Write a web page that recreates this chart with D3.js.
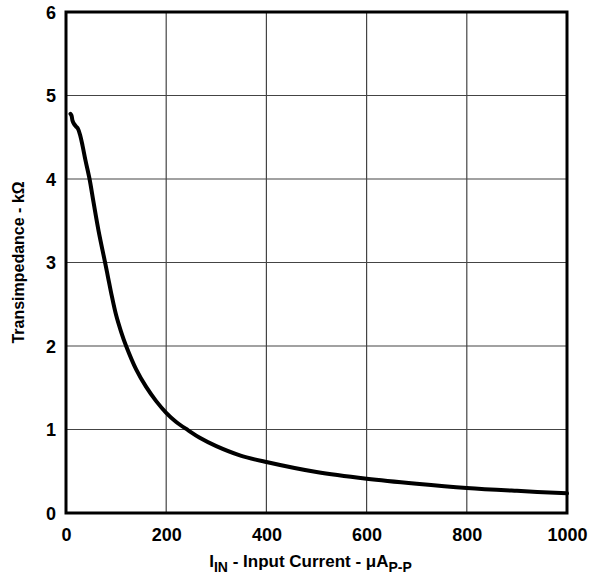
<!DOCTYPE html>
<html><head><meta charset="utf-8">
<script src="https://cdn.jsdelivr.net/npm/d3@7"></script>
<style>body{margin:0;background:#fff}svg{display:block}text{font-family:"Liberation Sans",Arial,sans-serif;font-weight:bold}</style>
</head><body>
<svg id="c" width="597" height="577"></svg>
<script>
const current = [9,11,13,16,20,24,28,33,39,47,55,65,78,84,90,100,110,120,140,160,180,200,220,244,267,300,347,400,500,600,700,800,900,1000];
const transimpedance = [4.78,4.76,4.70,4.66,4.63,4.60,4.53,4.40,4.22,4.0,3.72,3.38,3.0,2.82,2.64,2.37,2.17,2.0,1.72,1.51,1.34,1.20,1.09,0.99,0.90,0.80,0.69,0.61,0.49,0.41,0.35,0.30,0.265,0.236];
const xTicks = [0,200,400,600,800,1000];
const yTicks = [0,1,2,3,4,5,6];

const svg = d3.select("#c");
const L=66,R=567,T=12,B=513;
const x = d3.scaleLinear().domain([0,1000]).range([L,R]);
const y = d3.scaleLinear().domain([0,6]).range([B,T]);

const g = svg.append("g");
g.selectAll(".vg").data(xTicks.slice(1,-1)).join("line")
  .attr("x1",d=>x(d)).attr("x2",d=>x(d)).attr("y1",T).attr("y2",B)
  .attr("stroke","#444").attr("stroke-width",1.2);
g.selectAll(".hg").data(yTicks.slice(1,-1)).join("line")
  .attr("y1",d=>y(d)).attr("y2",d=>y(d)).attr("x1",L).attr("x2",R)
  .attr("stroke","#444").attr("stroke-width",1.2);

const fmt = d3.format("d");
const xAxis = svg.append("g").attr("transform",`translate(0,${B})`)
  .call(d3.axisBottom(x).tickValues(xTicks).tickFormat(fmt).tickSize(0).tickPadding(15));
const yAxis = svg.append("g").attr("transform",`translate(${L},0)`)
  .call(d3.axisLeft(y).tickValues(yTicks).tickFormat(fmt).tickSize(0).tickPadding(10));
[xAxis,yAxis].forEach(a=>{a.select(".domain").remove();
  a.selectAll("text").attr("font-size",18).attr("font-weight","bold").attr("fill","#000")
   .attr("font-family",'"Liberation Sans",Arial,sans-serif');});
yAxis.selectAll("text").attr("dy","0.35em");

svg.append("rect").attr("x",L).attr("y",T).attr("width",R-L).attr("height",B-T)
  .attr("fill","none").attr("stroke","#000").attr("stroke-width",3);

svg.append("path").datum(current.map((c,i)=>[c,transimpedance[i]]))
  .attr("d",d3.line().x(d=>x(d[0])).y(d=>y(d[1])).curve(d3.curveCatmullRom.alpha(0.5)))
  .attr("fill","none").attr("stroke","#000").attr("stroke-width",4).attr("stroke-linecap","round");

const xt = svg.append("text").attr("x",(L+R)/2-6).attr("y",567).attr("text-anchor","middle").attr("font-size",17);
xt.append("tspan").text("I");
xt.append("tspan").attr("font-size",14).attr("dy",5).text("IN");
xt.append("tspan").attr("dy",-5).text(" - Input Current - \u03BCA");
xt.append("tspan").attr("font-size",14).attr("dy",5).text("P-P");

svg.append("text").attr("transform",`translate(24,${(T+B)/2}) rotate(-90)`)
  .attr("text-anchor","middle").attr("font-size",16).text("Transimpedance - k\u03A9");
</script>
</body></html>
